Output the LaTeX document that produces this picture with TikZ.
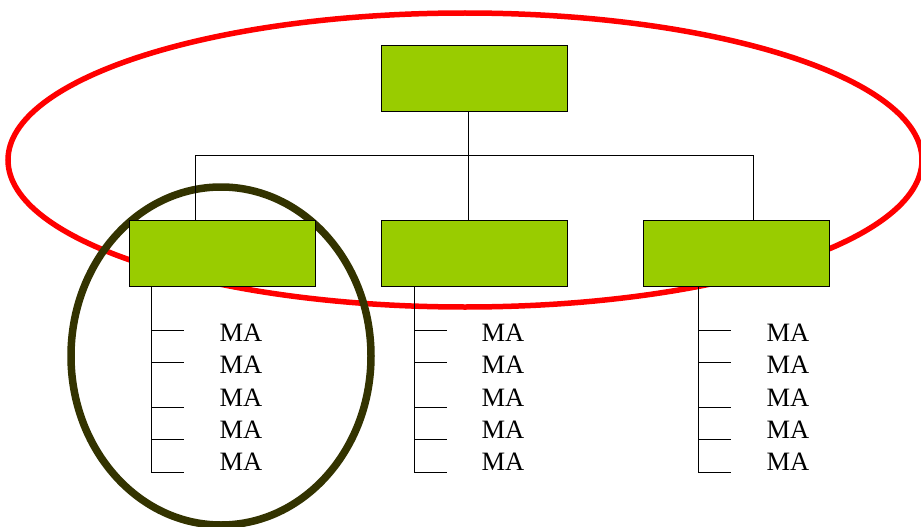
\documentclass[tikz,border=0pt]{standalone}
\usepackage{fontspec}
\setmainfont{Liberation Serif}
\begin{document}
\begin{tikzpicture}[x=1pt,y=-1pt,
  unit/.style={draw=black,line width=0.9pt,fill=boxgreen,minimum width=186pt,minimum height=66pt,inner sep=0pt},
  link/.style={black,line width=0.9pt},
  item/.style={inner sep=0pt,font=\fontsize{26.5}{30}\selectfont}]
\definecolor{boxgreen}{HTML}{99CC00}
\definecolor{olive}{HTML}{333300}
\useasboundingbox (0,0) rectangle (921,527);
% highlight rings
\draw[red,line width=5.5pt] (465,160) ellipse [x radius=457pt,y radius=147pt];
\draw[olive,line width=7.5pt] (221,356) ellipse [x radius=150pt,y radius=169pt];
% boxes
\node[unit] (top) at (474,78) {};
\node[unit] (left) at (222,253) {};
\node[unit] (mid) at (474,253) {};
\node[unit] (right) at (736,253) {};
% tree connectors
\coordinate (tdown) at (468,111);
\coordinate (bus) at (468,155);
\coordinate (busL) at (195,155);
\coordinate (busR) at (753,155);
\coordinate (lin) at (195,220);
\coordinate (min) at (468,220);
\coordinate (rin) at (753,220);
\draw[link] (tdown) -- (bus);
\draw[link] (busL) -- (busR);
\draw[link] (busL) -- (lin);
\draw[link] (bus) -- (min);
\draw[link] (busR) -- (rin);
% item lists
\foreach \name/\sx/\tx in {left/151/241, mid/414/503, right/698/788}{
  \coordinate (\name-s) at (\sx,286);
  \coordinate (\name-e) at (\sx,472);
  \draw[link] (\name-s) -- (\name-e);
  \foreach \ty/\my [count=\i] in {330/333, 362/365, 407/398, 439/430, 472/462}{
    \coordinate (\name-a\i) at (\sx,\ty);
    \coordinate (\name-b\i) at (\sx+33,\ty);
    \draw[link] (\name-a\i) -- (\name-b\i);
    \node[item] (\name-t\i) at (\tx,\my) {MA};
  }
}
\end{tikzpicture}
\end{document}
